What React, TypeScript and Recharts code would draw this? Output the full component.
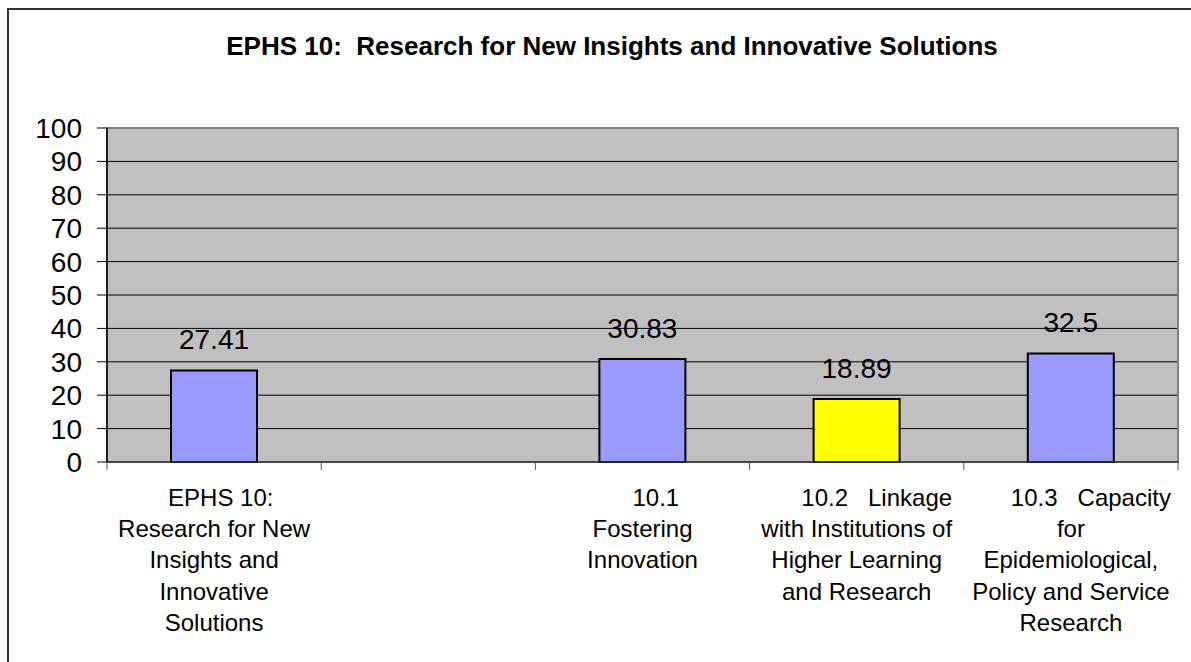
import React from 'react';
import {
  BarChart,
  Bar,
  XAxis,
  YAxis,
  CartesianGrid,
  Cell,
  LabelList,
  ReferenceArea,
} from 'recharts';

// Category keys, in plotting order (the second slot is an empty gap)
const categoryKeys = ['ephs10', 'gap', '10.1', '10.2', '10.3'];

// Wrapped axis label lines for each category
const categoryLabels: string[][] = [
  ['  EPHS 10:', 'Research for New', 'Insights and', 'Innovative', 'Solutions'],
  [],
  ['    10.1', 'Fostering', 'Innovation'],
  ['      10.2   Linkage', 'with Institutions of', 'Higher Learning', 'and Research'],
  ['      10.3   Capacity', 'for', 'Epidemiological,', 'Policy and Service', 'Research'],
];

// Performance scores
const scores: (number | null)[] = [27.41, null, 30.83, 18.89, 32.5];

// Bar fills
const barColors = ['#9999FF', '#9999FF', '#9999FF', '#FFFF00', '#9999FF'];

const yTicks = [0, 10, 20, 30, 40, 50, 60, 70, 80, 90, 100];

const chartData = categoryKeys.map((key, i) => ({
  key,
  value: scores[i],
}));

const FONT = '"Liberation Sans", Arial, sans-serif';

// Multi-line category label, plus tick marks on the band edges
const CategoryTick = (props: any) => {
  const { x, y, payload, index, visibleTicksCount } = props;
  const i = categoryKeys.indexOf(payload.value);
  const lines = i >= 0 ? categoryLabels[i] : [];
  const half = payload.offset ?? 0;
  const axisY = y;
  const isLast = index === visibleTicksCount - 1;
  return (
    <g>
      <line x1={x - half} x2={x - half} y1={axisY} y2={axisY + 8} stroke="#555" strokeWidth={1} />
      {isLast && (
        <line x1={x + half} x2={x + half} y1={axisY} y2={axisY + 8} stroke="#555" strokeWidth={1} />
      )}
      {lines.map((line, k) => (
        <text
          key={k}
          x={x}
          y={axisY + 44 + k * 31.2}
          textAnchor="middle"
          fontFamily={FONT}
          fontSize={24}
          fill="#000"
          style={{ whiteSpace: 'pre' }}
        >
          {line}
        </text>
      ))}
    </g>
  );
};

export default function App() {
  return (
    <div
      style={{
        position: 'absolute',
        left: 0,
        top: 0,
        width: 1191,
        height: 662,
        overflow: 'hidden',
        background: '#fff',
      }}
    >
      <div
        style={{
          position: 'absolute',
          left: 7,
          top: 8,
          width: 1300,
          height: 800,
          borderLeft: '2px solid #333',
          borderTop: '2px solid #333',
        }}
      />
      <div
        style={{
          position: 'absolute',
          left: 0,
          top: 31,
          width: 1224,
          textAlign: 'center',
          fontFamily: FONT,
          fontWeight: 'bold',
          fontSize: 26,
          lineHeight: '30px',
          color: '#000',
          whiteSpace: 'pre',
        }}
      >
        EPHS 10:  Research for New Insights and Innovative Solutions
      </div>
      <div style={{ position: 'absolute', left: 0, top: 0 }}>
        <BarChart
          width={1191}
          height={662}
          data={chartData}
          margin={{ top: 128, right: 13, bottom: 10, left: 0 }}
        >
          <CartesianGrid vertical={false} stroke="#000" fill="#C0C0C0" fillOpacity={1} />
          <ReferenceArea
            x1="ephs10"
            x2="10.3"
            y1={0}
            y2={100}
            fill="none"
            fillOpacity={0}
            stroke="#808080"
            strokeWidth={2}
          />
          <XAxis
            dataKey="key"
            type="category"
            interval={0}
            height={190}
            axisLine={{ stroke: '#333', strokeWidth: 1.5 }}
            tickLine={false}
            tickSize={0}
            tickMargin={0}
            tick={<CategoryTick />}
          />
          <YAxis
            domain={[0, 100]}
            ticks={yTicks}
            width={107}
            interval={0}
            axisLine={{ stroke: '#000', strokeWidth: 1.5 }}
            tickLine={{ stroke: '#000', strokeWidth: 1 }}
            tickSize={10}
            tickMargin={15}
            tick={{ fontSize: 28, fill: '#000', fontFamily: FONT }}
          />
          <Bar
            dataKey="value"
            barSize={86}
            stroke="#000"
            strokeWidth={2}
            isAnimationActive={false}
          >
            {chartData.map((d, i) => (
              <Cell key={d.key} fill={barColors[i]} />
            ))}
            <LabelList
              dataKey="value"
              position="top"
              offset={21}
              fill="#000"
              fontSize={28}
              fontFamily={FONT}
            />
          </Bar>
        </BarChart>
      </div>
    </div>
  );
}
